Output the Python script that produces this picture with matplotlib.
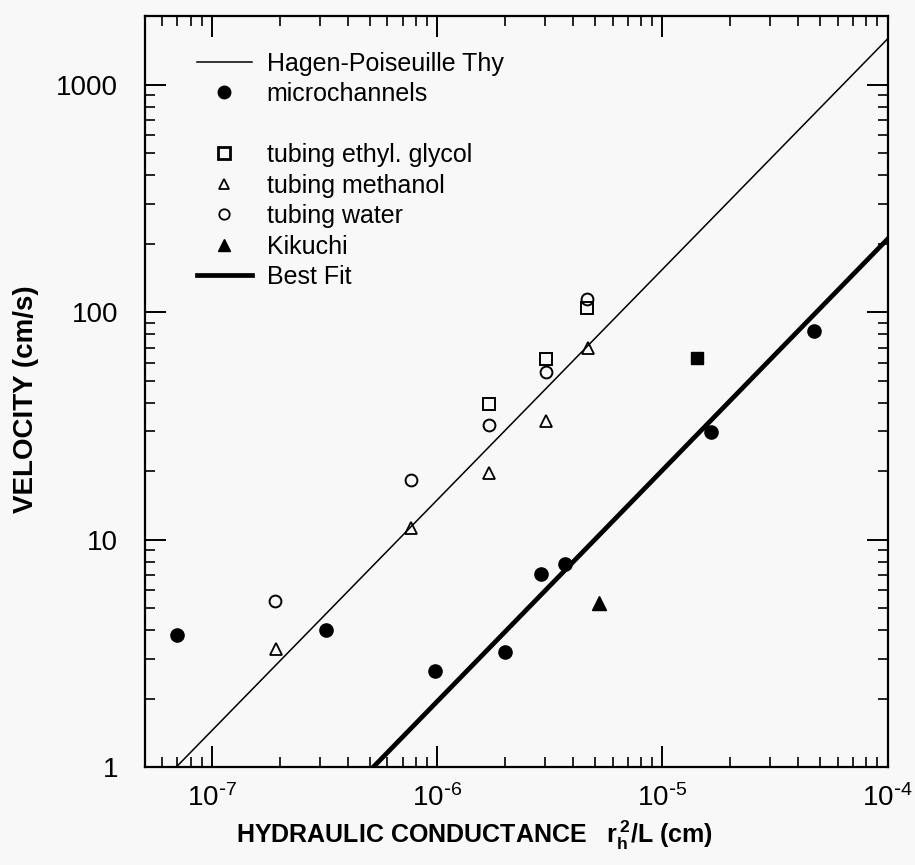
"""
Velocity vs hydraulic conductance, log-log, with Hagen-Poiseuille theory
and best-fit lines.
"""

import numpy as np
import matplotlib
matplotlib.use("Agg")
import matplotlib.pyplot as plt
from matplotlib.lines import Line2D
from matplotlib.ticker import LogLocator, FuncFormatter, NullFormatter

plt.rcParams["font.family"] = ["Liberation Sans", "DejaVu Sans"]
plt.rcParams["mathtext.default"] = "regular"

BG = "#f8f8f8"

# ── Data ─────────────────────────────────────────────────────────────────────
micro_x = [7.0e-8, 3.2e-7, 9.8e-7, 2.0e-6, 2.9e-6, 3.7e-6, 1.64e-5, 4.7e-5]
micro_v = [3.8, 4.0, 2.66, 3.2, 7.1, 7.8, 29.7, 83.0]

glycol_x = [1.69e-6, 3.03e-6, 4.62e-6]
glycol_v = [39.6, 62.6, 105.0]

methanol_x = [1.91e-7, 7.66e-7, 1.70e-6, 3.03e-6, 4.67e-6]
methanol_v = [3.3, 11.3, 19.6, 33.3, 70.0]

water_x = [1.89e-7, 7.66e-7, 1.69e-6, 3.03e-6, 4.62e-6]
water_v = [5.4, 18.4, 31.9, 54.8, 114.0]

kikuchi_x = [5.24e-6]
kikuchi_v = [5.26]

filled_sq_x = [1.43e-5]
filled_sq_v = [63.0]

# power-law lines: v = (x / x_at_v1) ** slope
hp_x1, hp_slope = 6.9e-8, 1.013
fit_x1, fit_slope = 5.18e-7, 1.016

XLIM = (5e-8, 1e-4)
YLIM = (1, 2000)

# ── Figure ───────────────────────────────────────────────────────────────────
fig = plt.figure(figsize=(9.15, 8.65), dpi=100, facecolor=BG)
ax = fig.add_axes([0.158, 0.113, 0.812, 0.868])
ax.set_facecolor(BG)
ax.set_xscale("log")
ax.set_yscale("log")

xs = np.logspace(np.log10(XLIM[0]), np.log10(XLIM[1]), 60)
ax.plot(xs, (xs / hp_x1) ** hp_slope, color="black", linewidth=1.1)
ax.plot(xs, (xs / fit_x1) ** fit_slope, color="black", linewidth=3.4)

ax.plot(micro_x, micro_v, "o", color="black", ms=9.5, ls="none")
ax.plot(glycol_x, glycol_v, "s", mfc="none", mec="black", mew=1.4, ms=8, ls="none")
ax.plot(methanol_x, methanol_v, "^", mfc="none", mec="black", mew=1.3, ms=8.5, ls="none")
ax.plot(water_x, water_v, "o", mfc="none", mec="black", mew=1.4, ms=8.5, ls="none")
ax.plot(kikuchi_x, kikuchi_v, "^", color="black", ms=9.5, ls="none")
ax.plot(filled_sq_x, filled_sq_v, "s", color="black", ms=9, ls="none")

ax.set_xlim(*XLIM)
ax.set_ylim(*YLIM)

# ── Ticks / spines ───────────────────────────────────────────────────────────
ax.xaxis.set_major_locator(LogLocator(base=10, numticks=10))
ax.xaxis.set_minor_locator(LogLocator(base=10, subs=np.arange(2, 10), numticks=20))
ax.yaxis.set_major_locator(LogLocator(base=10, numticks=10))
ax.yaxis.set_minor_locator(LogLocator(base=10, subs=np.arange(2, 10), numticks=20))
ax.xaxis.set_minor_formatter(NullFormatter())
ax.yaxis.set_minor_formatter(NullFormatter())
ax.xaxis.set_major_formatter(
    FuncFormatter(lambda v, p: r"$10^{\text{-}%d}$" % abs(int(round(np.log10(v))))))
ax.yaxis.set_major_formatter(FuncFormatter(lambda v, p: "%d" % v))

ax.tick_params(which="both", direction="in", top=True, right=True,
               colors="black", labelsize=20)
ax.tick_params(which="major", length=15, width=1.4)
ax.tick_params(which="minor", length=7, width=1.2)
ax.tick_params(axis="x", which="major", pad=12)
ax.tick_params(axis="y", which="major", pad=19)
for s in ax.spines.values():
    s.set_linewidth(1.6)

ax.set_ylabel("VELOCITY (cm/s)", fontsize=20, fontweight="bold")
ax.yaxis.set_label_coords(-0.142, 0.49)
ax.set_xlabel(r"HYDRAULIC CONDUCTANCE   $r_h^{\,2}$/L (cm)",
              fontsize=18, fontweight="bold")
ax.xaxis.set_label_coords(0.444, -0.068)

# ── Legend ───────────────────────────────────────────────────────────────────
handles = [
    Line2D([], [], color="black", linewidth=1.1),
    Line2D([], [], marker="o", color="black", ls="none", ms=9),
    Line2D([], [], ls="none"),
    Line2D([], [], marker="s", mfc="none", mec="black", mew=2, ls="none", ms=8),
    Line2D([], [], marker="^", mfc="none", mec="black", mew=1.3, ls="none", ms=7),
    Line2D([], [], marker="o", mfc="none", mec="black", mew=1.3, ls="none", ms=7.5),
    Line2D([], [], marker="^", color="black", ls="none", ms=9),
    Line2D([], [], color="black", linewidth=3.4),
]
labels = ["Hagen-Poiseuille Thy", "microchannels", " ",
          "tubing ethyl. glycol", "tubing methanol", "tubing water",
          "Kikuchi", "Best Fit"]
ax.legend(handles, labels, loc="upper left", bbox_to_anchor=(0.07, 0.953),
          frameon=False, fontsize=18, handlelength=2.2, handletextpad=0.6,
          labelspacing=0.26, borderpad=0, borderaxespad=0)

fig.savefig("out.png", dpi=100, facecolor=BG)
